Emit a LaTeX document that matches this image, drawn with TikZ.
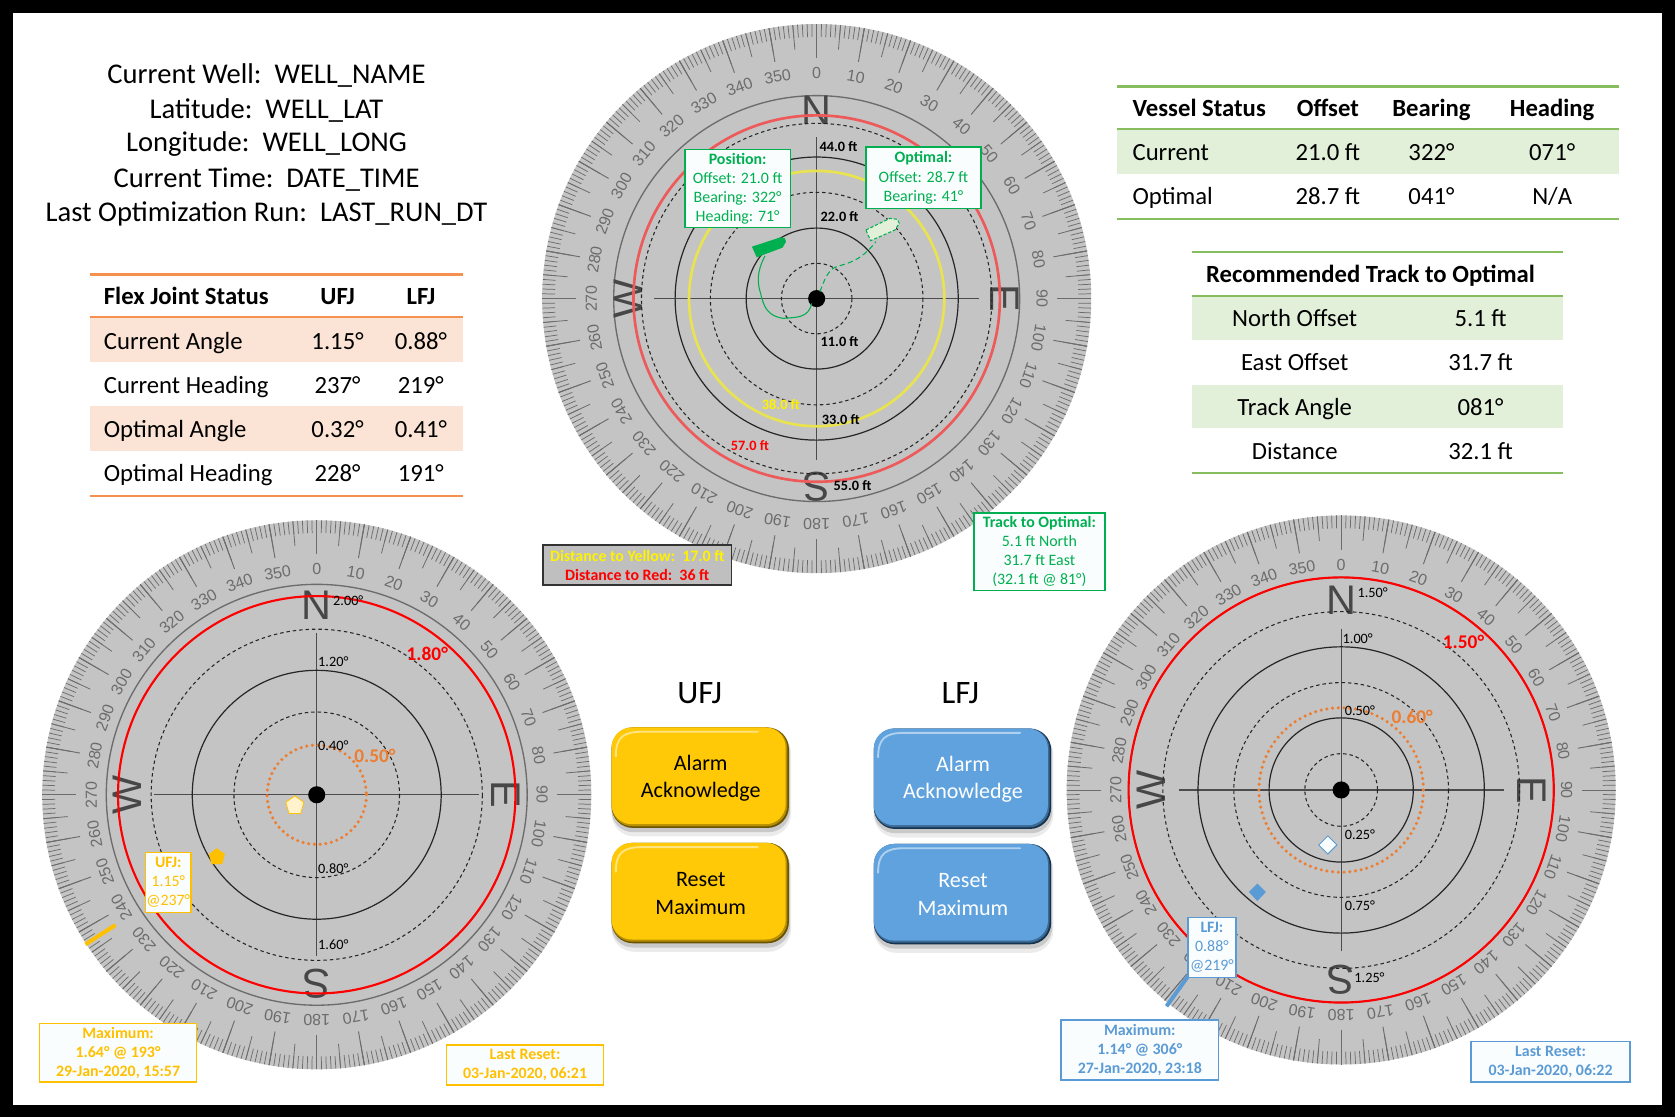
\documentclass[tikz,border=0pt]{standalone}
\usepackage{fontspec}
\setmainfont{Carlito}
\newfontfamily\dialfont{Liberation Sans}
\usepackage{tikz}

\definecolor{dialgrey}{HTML}{C4C4C4}
\definecolor{tickgrey}{HTML}{6C6C6C}
\definecolor{ufjgold}{HTML}{FFC000}
\definecolor{ufjface}{HTML}{FFC907}
\definecolor{ufjdark}{HTML}{6B5200}
\definecolor{lfjblue}{HTML}{5B9BD5}
\definecolor{lfjface}{HTML}{5FA2DE}
\definecolor{lfjdark}{HTML}{16324C}
\definecolor{boxgreen}{HTML}{00B050}
\definecolor{boxwhite}{HTML}{FAFDFE}
\definecolor{ruleorange}{HTML}{F4914E}
\definecolor{roworange}{HTML}{FBE4D5}
\definecolor{rulegreen}{HTML}{85BD5F}
\definecolor{rowgreen}{HTML}{E2EFD9}
\definecolor{dotorange}{HTML}{ED7D31}
\definecolor{ringyellow}{HTML}{E9E34F}
\definecolor{ringred}{HTML}{EE5A5A}

\tikzset{
    solidring/.style={draw=black!85, line width=.9pt},
    dashring/.style={draw=black!85, line width=.8pt, dash pattern=on 2.6pt off 2.2pt},
    dotring/.style={draw=dotorange, line width=2.6pt, line cap=round, dash pattern=on 0pt off 4.3pt},
    crossline/.style={draw=black!70, line width=.8pt},
    gaugelabel/.style={font=\fontsize{10.7}{12}\selectfont, text=black, inner sep=0pt},
    ftlabel/.style={gaugelabel, font=\bfseries\fontsize{10.7}{12}\selectfont},
    ringlabel/.style={font=\bfseries\fontsize{14.5}{16}\selectfont, inner sep=0pt},
    infobox/.style={draw=#1, text=#1, fill=boxwhite, line width=1pt, align=center, inner sep=0pt,
        font=\fontsize{11.9}{14.3}\selectfont},
    boldbox/.style={infobox=#1, font=\bfseries\fontsize{11.9}{14.3}\selectfont},
    bigtext/.style={font=\fontsize{21.4}{24}\selectfont, inner sep=0pt},
    tablecell/.style={font=\fontsize{18.5}{20}\selectfont, inner sep=0pt, anchor=base},
    tablehead/.style={tablecell, font=\bfseries\fontsize{18.5}{20}\selectfont},
    tablerule/.style={draw=#1, line width=1.6pt},
    presslabel/.style={inner sep=0pt, align=center, font=\fontsize{16.5}{20.5}\selectfont},
}

% dial face: name, radius of the dark ring, radius of the letters
\newcommand{\dialface}[3]{
    \fill[dialgrey] (0,0) circle[radius=257];
    \foreach \a in {0,...,359}
        \draw[tickgrey, line width=.55pt] ({257*sin(\a)},{-257*cos(\a)}) -- ({245*sin(\a)},{-245*cos(\a)});
    \foreach \a in {0,5,...,355}
        \draw[tickgrey, line width=.6pt] ({257*sin(\a)},{-257*cos(\a)}) -- ({234*sin(\a)},{-234*cos(\a)});
    \foreach \a in {0,10,...,350}{
        \draw[tickgrey, line width=.7pt] ({257*sin(\a)},{-257*cos(\a)}) -- ({225*sin(\a)},{-225*cos(\a)});
        \node[rotate=-\a, text=tickgrey, inner sep=0pt, font=\dialfont\fontsize{12}{13}\selectfont] (#1deg\a) at ({211*sin(\a)},{-211*cos(\a)}) {\a};
    }
    \draw[tickgrey, line width=1pt] (0,0) circle[radius=#2];
    \foreach \a/\letter in {0/N,90/E,180/S,270/W}
        \node[rotate=-\a, text=black!72, inner sep=0pt, font=\dialfont\fontsize{31}{33}\selectfont] (#1\letter) at ({#3*sin(\a)},{-#3*cos(\a)}) {\letter};
    \draw[crossline] (-152,0) -- (152,0);
    \draw[crossline] (0,-151) -- (0,151);
}

% bevelled button: name, x, y, face, dark edge, text colour, label
\newcommand{\pressbutton}[7]{
    \begin{scope}[shift={(#2,#3)}]
        \fill[black, opacity=.08, rounded corners=17pt] (-83,-44) rectangle (85,55);
        \fill[black, opacity=.14, rounded corners=16pt] (-83,-44) rectangle (84,51);
        \fill[#5, rounded corners=16pt] (-83,-47) rectangle (83,47);
        \fill[#5!50!#4, rounded corners=15.5pt] (-83,-47) rectangle (81.5,45.5);
        \fill[#4, rounded corners=15pt] (-83,-47) rectangle (80,43.5);
        \node[presslabel, text=#6] (#1) at (.5,.5) {#7};
        \draw[white, opacity=.5, line width=1.4pt, line cap=round] (-79,-20) .. controls (-79,-38) and (-72,-43) .. (-54,-43) -- (54,-43);
    \end{scope}
}

\begin{document}
\begin{tikzpicture}[x=.8pt, y=-.8pt]
    \fill[black] (0,0) rectangle (1568,1046);
    \fill[white] (12,12) rectangle (1556,1034);

    % well header
    \foreach \ypos/\headline [count=\i] in {71/Current Well:\ \ WELL\_NAME, 103/Latitude:\ \ WELL\_LAT, 135/Longitude:\ \ WELL\_LONG, 168/Current Time:\ \ DATE\_TIME, 200/Last Optimization Run:\ \ LAST\_RUN\_DT}
        \node[bigtext] (well\i) at (249.5,\ypos) {\headline};

    % flex joint table
    \fill[roworange] (84,298) rectangle (433,339);
    \fill[roworange] (84,380) rectangle (433,422);
    \draw[tablerule=ruleorange] (84,257) -- (433,257);
    \draw[tablerule=ruleorange] (84,297) -- (433,297);
    \draw[tablerule=ruleorange] (84,464) -- (433,464);
    \node[tablehead, anchor=base west] (fjhead) at (97,285) {Flex Joint Status};
    \node[tablehead] (fjufj) at (316,285) {UFJ};
    \node[tablehead] (fjlfj) at (394,285) {LFJ};
    \foreach \ypos/\rowname/\ufjval/\lfjval [count=\i] in {327/Current Angle/1.15°/0.88°, 368/Current Heading/237°/219°, 410/Optimal Angle/0.32°/0.41°, 451/Optimal Heading/228°/191°}{
        \node[tablecell, anchor=base west] (fjrow\i) at (97,\ypos) {\rowname};
        \node[tablecell] (fjrow\i u) at (316,\ypos) {\ufjval};
        \node[tablecell] (fjrow\i l) at (394,\ypos) {\lfjval};
    }

    % vessel table
    \fill[rowgreen] (1046,122) rectangle (1516,163);
    \draw[tablerule=rulegreen] (1046,81) -- (1516,81);
    \draw[tablerule=rulegreen] (1046,121) -- (1516,121);
    \draw[tablerule=rulegreen] (1046,205) -- (1516,205);
    \node[tablehead, anchor=base west] (vshead) at (1060,109) {Vessel Status};
    \node[tablehead] (vsoffset) at (1243,109) {Offset};
    \node[tablehead] (vsbearing) at (1340,109) {Bearing};
    \node[tablehead] (vsheading) at (1453,109) {Heading};
    \foreach \ypos/\rowname/\offsetval/\bearingval/\headingval [count=\i] in {150/Current/21.0 ft/322°/071°, 191.5/Optimal/28.7 ft/041°/N\slash A}{
        \node[tablecell, anchor=base west] (vsrow\i) at (1060,\ypos) {\rowname};
        \node[tablecell] (vsrow\i o) at (1243,\ypos) {\offsetval};
        \node[tablecell] (vsrow\i b) at (1340,\ypos) {\bearingval};
        \node[tablecell] (vsrow\i h) at (1453,\ypos) {\headingval};
    }

    % track table
    \fill[rowgreen] (1116,278) rectangle (1463,318);
    \fill[rowgreen] (1116,360) rectangle (1463,401);
    \draw[tablerule=rulegreen] (1116,236) -- (1463,236);
    \draw[tablerule=rulegreen] (1116,277) -- (1463,277);
    \draw[tablerule=rulegreen] (1116,443) -- (1463,443);
    \node[tablehead] (trhead) at (1283,264) {Recommended Track to Optimal};
    \foreach \ypos/\rowname/\rowval [count=\i] in {306/North Offset/5.1 ft, 347/East Offset/31.7 ft, 388.5/Track Angle/081°, 430/Distance/32.1 ft}{
        \node[tablecell] (trrow\i) at (1212,\ypos) {\rowname};
        \node[tablecell] (trrow\i v) at (1386,\ypos) {\rowval};
    }

    % vessel dial
    \begin{scope}[shift={(764.5,279.5)}]
        \dialface{vd}{190}{176}
        \draw[dashring] (0,0) circle[radius=33];
        \draw[solidring] (0,0) circle[radius=66];
        \draw[dashring] (0,0) circle[radius=99.5];
        \draw[ringyellow, line width=2pt] (0,0) circle[radius=119.5];
        \draw[solidring] (0,0) circle[radius=132.5];
        \draw[dashring] (0,0) circle[radius=164];
        \draw[ringred, line width=2pt] (0,0) circle[radius=171.5];
        \fill[black] (0,0) circle[radius=8];
    \end{scope}
    \draw[boxgreen, line width=.8pt] (716.1,239.6) .. controls (708,255) and (709,265) .. (712,274.6) .. controls (715,288) and (719,296) .. (733.3,298) .. controls (745,297) and (757,298) .. (759.8,284);
    \draw[boxgreen, line width=.8pt, dash pattern=on 4pt off 2.4pt] (767.6,273) .. controls (771,264) and (775,252) .. (783.2,249.6) .. controls (795,246) and (806,244) .. (820,226.2);
    \fill[boxgreen] (703.9,230.9) -- (730.8,222.1) -- (734.8,223.1) -- (735.8,226.2) -- (732.6,231.8) -- (708.3,240.9) -- cycle;
    \draw[boxgreen, fill=rowgreen, line width=.8pt, dash pattern=on 2.4pt off 1.4pt] (810.6,215.3) -- (833.1,204.4) -- (840,205.3) -- (841.8,209) -- (837.8,215.3) -- (815,225.3) -- cycle;
    \foreach \xpos/\ypos/\ftval [count=\i] in {785/137/44.0 ft, 786/203/22.0 ft, 786/320/11.0 ft, 787/393/33.0 ft, 798/455/55.0 ft}
        \node[ftlabel] (ftlabel\i) at (\xpos,\ypos) {\ftval};
    \node[ftlabel, text=yellow] (yellowlabel) at (731,379) {38.0 ft};
    \node[ftlabel, text=red] (redlabel) at (702,417) {57.0 ft};

    % UFJ dial
    \begin{scope}[shift={(296.5,744)}]
        \dialface{ud}{197}{177}
        \draw[dotring] (0,0) circle[radius=46.5];
        \draw[dashring] (0,0) circle[radius=77.5];
        \draw[solidring] (0,0) circle[radius=116.5];
        \draw[dashring] (0,0) circle[radius=155];
        \draw[red, line width=1.6pt] (0,0) circle[radius=186];
        \fill[black] (0,0) circle[radius=8];
    \end{scope}
    \foreach \xpos/\ypos/\degval [count=\i] in {326/562/2.00°, 312/619/1.20°, 312/698/0.40°, 312/813/0.80°, 312/884/1.60°}
        \node[gaugelabel] (ulabel\i) at (\xpos,\ypos) {\degval};
    \node[ringlabel, text=red] (ured) at (400,612) {1.80°};
    \node[ringlabel, text=dotorange] (uorange) at (351,708) {0.50°};
    \draw[draw=ufjgold, fill=ufjgold!20, line width=.6pt] (276,745) -- (284.5,751) -- (281.5,761.5) -- (270.5,761.5) -- (267.5,751) -- cycle;
    \fill[ufjgold] (203,794) -- (210.5,799.5) -- (208,809) -- (198,809) -- (195.5,799.5) -- cycle;
    \draw[ufjgold, line width=3pt] (80,884) -- (108,866);

    % LFJ dial
    \begin{scope}[shift={(1255.5,739.5)}]
        \dialface{ld}{199}{178}
        \draw[dashring] (0,0) circle[radius=34];
        \draw[solidring] (0,0) circle[radius=67.5];
        \draw[dotring] (0,0) circle[radius=77];
        \draw[dashring] (0,0) circle[radius=100.5];
        \draw[solidring] (0,0) circle[radius=134];
        \draw[dashring] (0,0) circle[radius=167];
        \draw[red, line width=1.6pt] (0,0) circle[radius=199];
        \fill[black] (0,0) circle[radius=8];
    \end{scope}
    \foreach \xpos/\ypos/\degval [count=\i] in {1285/555/1.50°, 1271/598/1.00°, 1273/665/0.50°, 1273/781/0.25°, 1273/848/0.75°, 1282/915/1.25°}
        \node[gaugelabel] (llabel\i) at (\xpos,\ypos) {\degval};
    \node[ringlabel, text=red] (lred) at (1370,601) {1.50°};
    \node[ringlabel, text=dotorange] (lorange) at (1322,671) {0.60°};
    \draw[draw=lfjblue, fill=boxwhite, line width=.7pt] (1243,782.5) -- (1251.5,791) -- (1243,799.5) -- (1234.5,791) -- cycle;
    \fill[lfjblue] (1177,827) -- (1185,835) -- (1177,843.5) -- (1169,835) -- cycle;
    \draw[lfjblue, line width=3pt] (1092,942) -- (1112,914);

    % text boxes
    \node[infobox=boxgreen, minimum width=79pt, minimum height=58pt] (position) at (690.5,176.5) {\textbf{Position:}\\Offset: 21.0 ft\\Bearing: 322°\\Heading: 71°};
    \node[infobox=boxgreen, minimum width=86pt, minimum height=46pt] (optimal) at (864.5,166.5) {\textbf{Optimal:}\\Offset: 28.7 ft\\Bearing: 41°};
    \node[infobox=boxgreen, minimum width=98pt, minimum height=58pt] (track) at (973,516.5) {\textbf{Track to Optimal:}\\5.1 ft North\\31.7 ft East\\(32.1 ft @ 81°)};
    \node[draw=black!80, fill=black!25, line width=1.2pt, align=center, inner sep=0pt, minimum width=141pt, minimum height=30pt, font=\bfseries\fontsize{11.9}{14.3}\selectfont] (distance) at (596.5,529) {\textcolor{yellow}{Distance to Yellow:\ \ 17.0 ft}\\\textcolor{red}{Distance to Red:\ \ 36 ft}};
    \node[infobox=ufjgold, minimum width=34pt, minimum height=45pt] (ufjbox) at (157.5,826) {\textbf{UFJ:}\\1.15°\\@237°};
    \node[boldbox=ufjgold, minimum width=118pt, minimum height=44pt] (ufjmax) at (110.5,985.5) {Maximum:\\1.64° @ 193°\\29-Jan-2020, 15:57};
    \node[boldbox=ufjgold, minimum width=118pt, minimum height=30pt] (ufjlast) at (491.5,997) {Last Reset:\\03-Jan-2020, 06:21};
    \node[infobox=lfjblue, minimum width=36pt, minimum height=45pt] (lfjbox) at (1134.5,887) {\textbf{LFJ:}\\0.88°\\@219°};
    \node[boldbox=lfjblue, minimum width=118pt, minimum height=45pt] (lfjmax) at (1067,983) {Maximum:\\1.14° @ 306°\\27-Jan-2020, 23:18};
    \node[boldbox=lfjblue, minimum width=119pt, minimum height=30pt] (lfjlast) at (1451.5,994) {Last Reset:\\03-Jan-2020, 06:22};

    % buttons
    \node[inner sep=0pt, font=\fontsize{24.5}{28}\selectfont] (ufjtitle) at (655,649) {UFJ};
    \node[inner sep=0pt, font=\fontsize{24.5}{28}\selectfont] (lfjtitle) at (899,649) {LFJ};
    \pressbutton{ufjalarm}{655.5}{728}{ufjface}{ufjdark}{black}{Alarm\\Acknowledge}
    \pressbutton{ufjreset}{655.5}{836}{ufjface}{ufjdark}{black}{Reset\\Maximum}
    \pressbutton{lfjalarm}{901}{729}{lfjface}{lfjdark}{white}{Alarm\\Acknowledge}
    \pressbutton{lfjreset}{901}{837}{lfjface}{lfjdark}{white}{Reset\\Maximum}
\end{tikzpicture}
\end{document}
